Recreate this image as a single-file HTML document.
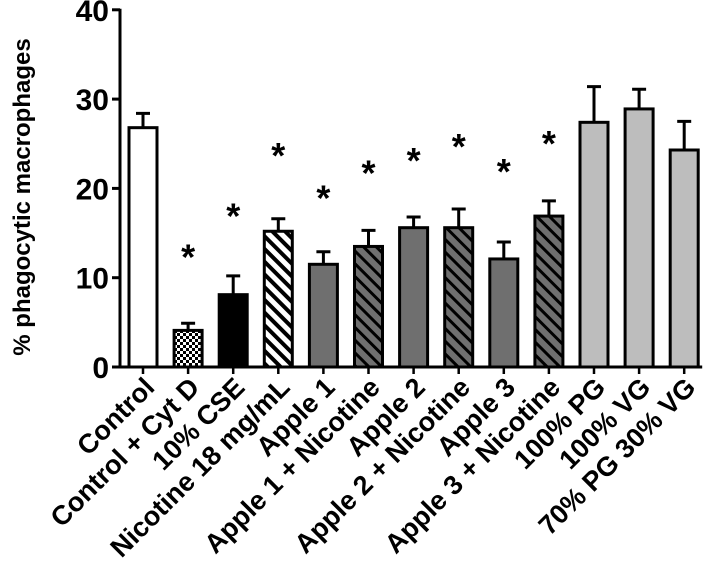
<!DOCTYPE html>
<html><head><meta charset="utf-8"><style>
html,body{margin:0;padding:0;background:#fff}
svg text{font-family:"Liberation Sans",Arial,sans-serif;font-weight:bold;fill:#000}
</style></head><body>
<svg id="chart" width="709" height="574" viewBox="0 0 709 574">
<defs>
<pattern id="checker" width="6" height="6" patternUnits="userSpaceOnUse"><rect width="6" height="6" fill="#fff"/><rect width="3" height="3" fill="#000"/><rect x="3" y="3" width="3" height="3" fill="#000"/></pattern>
<pattern id="hatchW" width="9" height="9" patternUnits="userSpaceOnUse" patternTransform="rotate(-45)"><rect width="9" height="9" fill="#fff"/><rect width="4" height="9" fill="#000"/></pattern>
<pattern id="hatchG" width="9" height="9" patternUnits="userSpaceOnUse" patternTransform="rotate(-45)"><rect width="9" height="9" fill="#6f6f6f"/><rect width="3" height="9" fill="#000"/></pattern>
</defs>
<g id="plot"></g>
</svg>
<script>
const categories=["Control","Control + Cyt D","10% CSE","Nicotine 18 mg/mL","Apple 1","Apple 1 + Nicotine","Apple 2","Apple 2 + Nicotine","Apple 3","Apple 3 + Nicotine","100% PG","100% VG","70% PG 30% VG"];
const means=[26.8,4.1,8.1,15.2,11.5,13.5,15.6,15.6,12.1,16.9,27.4,28.9,24.3];
const errTops=[28.4,4.9,10.2,16.6,12.9,15.3,16.8,17.7,14.0,18.6,31.4,31.1,27.5];
const starPos=[null,12.7,17.3,24.1,19.3,22.1,23.5,25.1,22.3,25.4,null,null,null];
const fills=["#fff","url(#checker)","#000","url(#hatchW)","#6f6f6f","url(#hatchG)","#6f6f6f","url(#hatchG)","#6f6f6f","url(#hatchG)","#bdbdbd","#bdbdbd","#bdbdbd"];
const yTicks=[0,10,20,30,40];

const NS="http://www.w3.org/2000/svg";
const g=document.getElementById('plot');
const y0=367,pxPer=8.93,x0=143,step=45.1,bw=28;
const y=v=>y0-v*pxPer;
const x=i=>x0+i*step;
function mk(t,a,p){const e=document.createElementNS(NS,t);for(const k in a)e.setAttribute(k,a[k]);(p||g).appendChild(e);return e;}

const ax=mk('line',{x1:120,y1:y(40)-1,x2:120,y2:y0+1,stroke:'#000','stroke-width':3});


const bx=mk('line',{x1:119,y1:y0,x2:x(12)+bw/2+4,y2:y0,stroke:'#000','stroke-width':3});



yTicks.forEach(v=>{
  const t=mk('line',{x1:112,y1:y(v),x2:120,y2:y(v),stroke:'#000','stroke-width':3});
  
  
  const l=mk('text',{x:109,y:y(v)+11,'text-anchor':'end','font-size':30});
  l.textContent=v;
  
  
});
const yt=mk('text',{x:0,y:0,'text-anchor':'middle','font-size':24,transform:'translate(30,197) rotate(-90)'});
yt.textContent='% phagocytic macrophages';



categories.forEach((c,i)=>{
  const cx=x(i);
  const tk=mk('line',{x1:cx,y1:y0,x2:cx,y2:y0+7,stroke:'#000','stroke-width':2.5});
  
  
  const eb=mk('path',{d:`M${cx} ${y(means[i])} V${y(errTops[i])} M${cx-7} ${y(errTops[i])} H${cx+7}`,stroke:'#000','stroke-width':3,fill:'none'});
  
  
  const r=mk('rect',{x:cx-bw/2,y:y(means[i]),width:bw,height:y0-y(means[i]),fill:fills[i],stroke:'#000','stroke-width':3});
  
  
  if(starPos[i]!==null){
    const s=mk('text',{x:cx,y:y(starPos[i])+16,'text-anchor':'middle','font-size':36});
    s.textContent='*';
    
    
  }
  const lb=mk('text',{x:0,y:0,'text-anchor':'end','font-size':27,transform:`translate(${cx+13},${y0+22}) rotate(-45)`});
  lb.textContent=c;
  
  
});
</script>
</body></html>
